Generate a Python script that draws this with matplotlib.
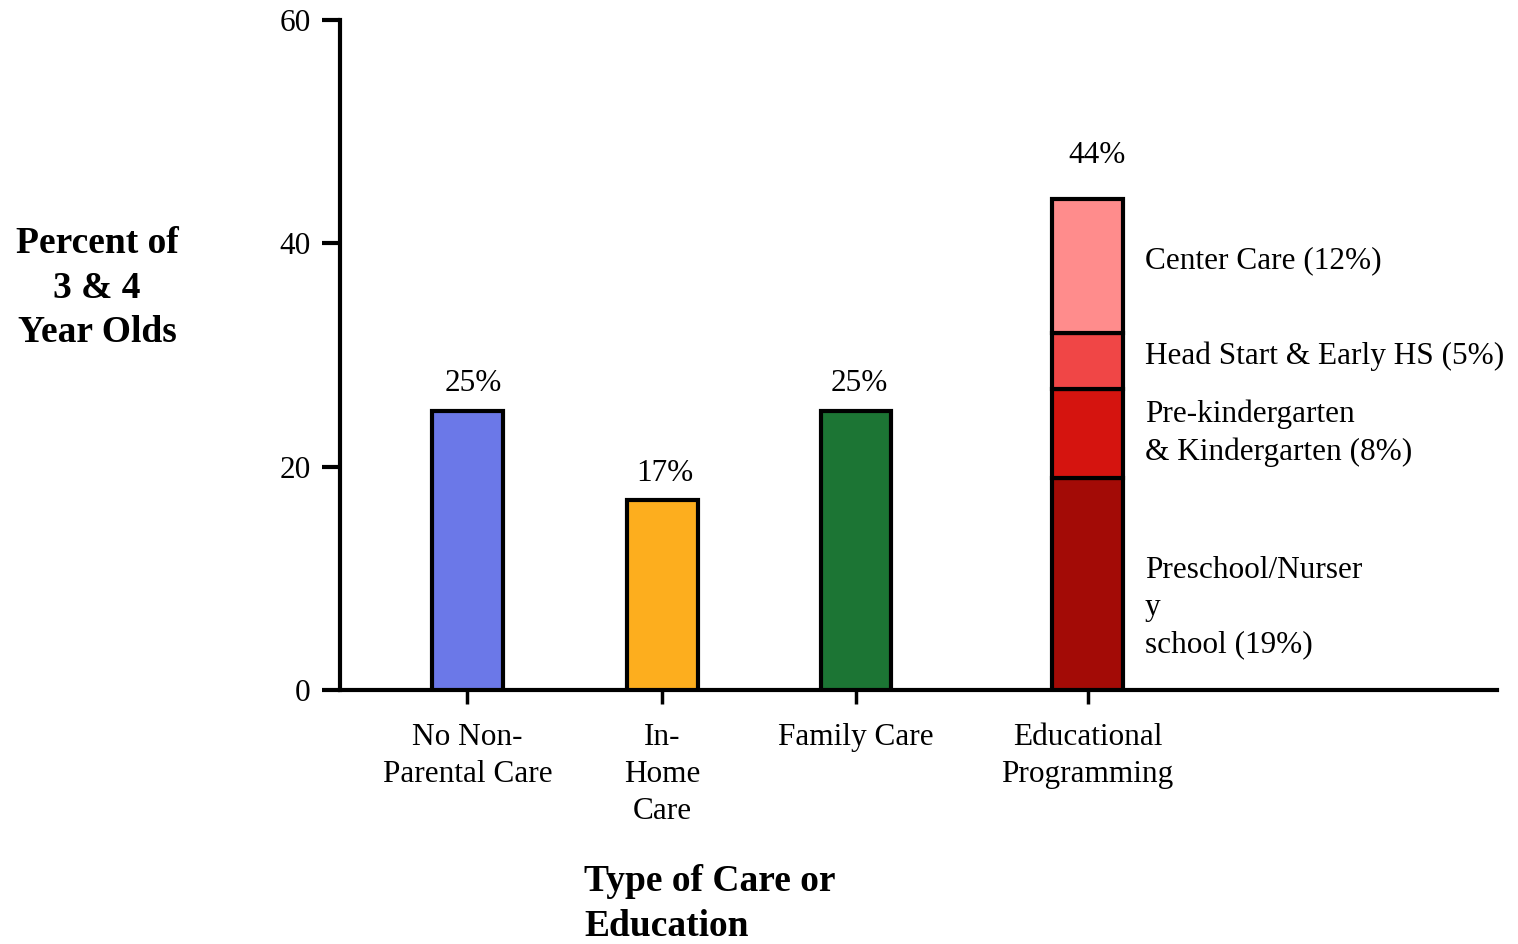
import matplotlib
matplotlib.use("Agg")
import matplotlib.pyplot as plt

# ---- data -----------------------------------------------------------------
categories = ["No Non-\nParental Care", "In-\nHome\nCare", "Family Care",
              "Educational\nProgramming"]
single_values = [25, 17, 25]
single_colors = ["#6b78e8", "#fdae1e", "#1c7534"]

edu_parts = [19, 8, 5, 12]
edu_labels = ["Preschool/Nurser\ny\nschool (19%)",
              "Pre-kindergarten\n& Kindergarten (8%)",
              "Head Start & Early HS (5%)",
              "Center Care (12%)"]
edu_colors = ["#a30b06", "#d5140f", "#f04646", "#ff8c8c"]
edu_total = 44

yticks = [0, 20, 40, 60]

# ---- layout ---------------------------------------------------------------
xpos = [0.98, 2.48, 3.97, 5.75]
bar_w = 0.54
seg_label_y = [7.4, 23.0, 29.9, 38.4]   # vertical centres of the segment notes
FS = 22.5        # regular text size
FS_B = 27        # bold axis titles

plt.rcParams["font.family"] = ["Liberation Serif", "DejaVu Serif"]
fig = plt.figure(figsize=(15.18, 9.44), dpi=100)
ax = fig.add_axes([340/1518, 1 - 690/944, 1157/1518, 670/944])

lw = 3.0
lab_dx = [4, 2, 2]
lab_dy = [20, 19, 20]
for x, v, c, dx, dy in zip(xpos[:3], single_values, single_colors, lab_dx, lab_dy):
    ax.bar(x, v, width=bar_w, color=c, edgecolor="black", linewidth=lw, zorder=3)
    ax.annotate(f"{v}%", (x, v), xytext=(dx, dy), textcoords="offset points",
                ha="center", va="center", fontsize=FS)

bottom = 0
for part, c in zip(edu_parts, edu_colors):
    ax.bar(xpos[3], part, width=bar_w, bottom=bottom, color=c,
           edgecolor="black", linewidth=lw, zorder=3)
    bottom += part
ax.annotate(f"{edu_total}%", (xpos[3], edu_total), xytext=(7, 31),
            textcoords="offset points", ha="center", va="center", fontsize=FS)

for lab, y in zip(edu_labels, seg_label_y):
    ax.text(xpos[3] + bar_w / 2 + 0.17, y, lab, ha="left", va="center",
            fontsize=FS, linespacing=1.36)

ax.set_xlim(0, 1157 / 130)
ax.set_ylim(0, 60)
ax.set_yticks(yticks)
ax.set_xticks(xpos)
ax.set_xticklabels(categories, fontsize=FS, linespacing=1.36)
ax.tick_params(axis="y", direction="out", length=13, width=3, pad=8, labelsize=FS)
ax.tick_params(axis="x", direction="out", length=10, width=2.5, pad=14)

for s in ("top", "right"):
    ax.spines[s].set_visible(False)
for s in ("left", "bottom"):
    ax.spines[s].set_linewidth(3)

fig.text(97 / 1518, 1 - 288 / 944, "Percent of\n3 & 4\nYear Olds",
         ha="center", va="center", fontsize=FS_B, fontweight="bold",
         linespacing=1.35)
fig.text(584 / 1518, 1 - 904 / 944, "Type of Care or\nEducation",
         ha="left", va="center", fontsize=FS_B, fontweight="bold",
         linespacing=1.35)

fig.savefig("out.png", dpi=100)
